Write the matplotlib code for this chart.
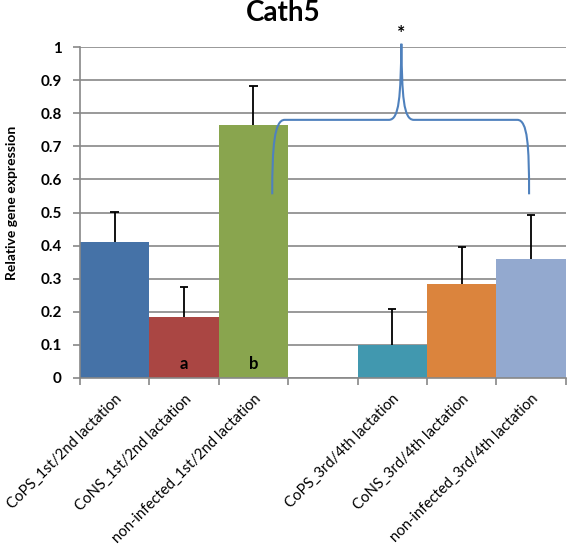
import matplotlib.pyplot as plt
from matplotlib.path import Path
from matplotlib.patches import PathPatch
import numpy as np

# data
labels = ["CoPS_1st/2nd lactation", "CoNS_1st/2nd lactation", "non-infected_1st/2nd lactation", "",
          "CoPS_3rd/4th lactation", "CoNS_3rd/4th lactation", "non-infected_3rd/4th lactation"]
values = [0.41, 0.185, 0.763, 0, 0.10, 0.285, 0.361]
errors = [0.091, 0.091, 0.119, 0, 0.109, 0.111, 0.131]
colors = ["#4572A7", "#AA4643", "#89A54E", "none", "#4198AF", "#DB843D", "#93A9CF"]
letters = {1: "a", 2: "b"}

plt.rcParams['font.family'] = ['Lato', 'DejaVu Sans']

fig = plt.figure(figsize=(5.67, 5.47), dpi=100)
ax = fig.add_axes([0.141, 0.309, 0.857, 0.605])

x = np.arange(len(values))
ax.bar(x, values, width=1.0, color=colors, zorder=2)
# upper error bars only
for i in x:
    if values[i] > 0:
        top = values[i] + errors[i]
        ax.vlines(i, values[i], top, color="black", lw=1.3, zorder=3)
        ax.hlines(top, i - 0.06, i + 0.06, color="black", lw=1.3, zorder=3)
for i, t in letters.items():
    ax.text(i, 0.042, t, ha="center", va="center", fontsize=12, fontweight="bold")

# significance brace
verts = [(2.27, 0.555), (2.27, 0.70), (2.30, 0.78), (2.45, 0.78),
         (3.95, 0.78),
         (4.10, 0.78), (4.12, 0.85), (4.13, 1.01),
         (4.14, 0.85), (4.16, 0.78), (4.31, 0.78),
         (5.80, 0.78),
         (5.95, 0.78), (5.97, 0.70), (5.97, 0.555)]
codes = [Path.MOVETO, Path.CURVE4, Path.CURVE4, Path.CURVE4,
         Path.LINETO,
         Path.CURVE4, Path.CURVE4, Path.CURVE4,
         Path.CURVE4, Path.CURVE4, Path.CURVE4,
         Path.LINETO,
         Path.CURVE4, Path.CURVE4, Path.CURVE4]
ax.add_patch(PathPatch(Path(verts, codes), fill=False, edgecolor="#4F81BD", lw=1.5, zorder=4, clip_on=False))
ax.text(4.13, 1.015, "*", ha="center", va="bottom", fontsize=14, fontweight="bold")

ax.set_xlim(-0.5, 6.5)
ax.set_ylim(0, 1)
ax.set_yticks(np.arange(0, 1.01, 0.1))
ax.set_yticklabels(["0"] + [f"{v:.1f}" for v in np.arange(0.1, 0.95, 0.1)] + ["1"],
                   fontsize=11, fontweight="bold")
ax.set_xticks(x)
ax.set_xticklabels(labels, rotation=45, ha="right", rotation_mode="anchor", fontsize=10.7)
ax.set_xticks(np.arange(-0.5, 7, 1), minor=True)
ax.tick_params(axis="x", which="major", length=0, pad=10)
ax.tick_params(axis="x", which="minor", length=5, color="#888888", width=1.2)
ax.tick_params(axis="y", length=5, color="#888888", width=1.2, pad=8)
ax.yaxis.grid(True, color="#888888", lw=1.2, zorder=0)
ax.set_axisbelow(True)
for s in ["top", "right"]:
    ax.spines[s].set_visible(False)
for s in ["left", "bottom"]:
    ax.spines[s].set_color("#888888")
    ax.spines[s].set_linewidth(1.2)

ax.set_ylabel("Relative gene expression", fontsize=10, fontweight="bold")
ax.yaxis.set_label_coords(-0.127, 0.53)
fig.suptitle("Cath5", fontsize=20, fontweight="bold", y=1.0)

fig.savefig("out.png", dpi=100)
